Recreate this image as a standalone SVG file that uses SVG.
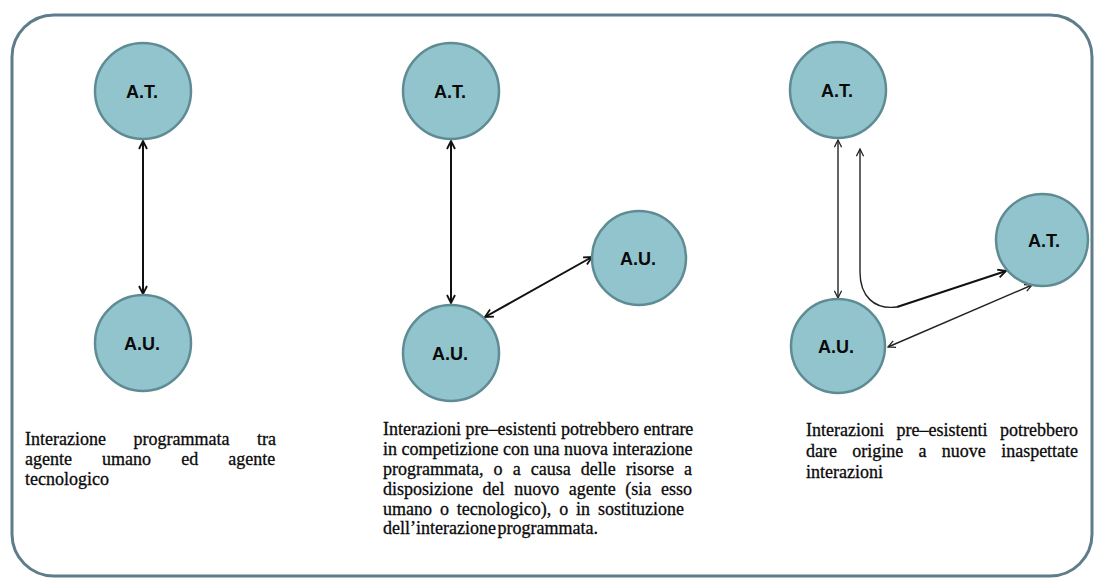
<svg xmlns="http://www.w3.org/2000/svg" width="1095" height="579" viewBox="0 0 1095 579">
  <style>
    .node circle { fill: #91c4cc; stroke: #5f8c94; stroke-width: 2.5; }
    .node text { font-family: "Liberation Sans", Arial, sans-serif; font-weight: bold; font-size: 18px; fill: #0a0a0a; text-anchor: middle; }
    .link { fill: none; stroke: #111; stroke-width: 2; }
    .thin { fill: none; stroke: #222; stroke-width: 1.4; }
    .caption { font-family: "Liberation Serif", "Times New Roman", serif; font-size: 18px; fill: #0a0a0a; stroke: #0a0a0a; stroke-width: 0.3; }
  </style>
  <defs>
    <marker id="head" viewBox="0 0 10 10" refX="9" refY="5" markerWidth="10" markerHeight="10" markerUnits="userSpaceOnUse" orient="auto-start-reverse">
      <path d="M1,1 L9,5 L1,9" fill="none" stroke="#111" stroke-width="1.8"/>
    </marker>
    <marker id="headThin" viewBox="0 0 10 10" refX="9" refY="5" markerWidth="9" markerHeight="9" markerUnits="userSpaceOnUse" orient="auto-start-reverse">
      <path d="M1,1 L9,5 L1,9" fill="none" stroke="#222" stroke-width="1.4"/>
    </marker>
  </defs>

  <rect width="1095" height="579" fill="#ffffff"/>
  <!-- outer frame -->
  <rect x="12" y="15" width="1080" height="561" rx="42" ry="42" fill="none" stroke="#5e7d8b" stroke-width="3"/>

  <!-- connectors -->
  <g id="connectors">
    <line class="link" x1="143" y1="141" x2="143" y2="294" marker-start="url(#head)" marker-end="url(#head)"/>
    <line class="link" x1="451" y1="141" x2="451" y2="303" marker-start="url(#head)" marker-end="url(#head)"/>
    <line class="link" x1="485" y1="317" x2="592" y2="257" marker-start="url(#head)" marker-end="url(#head)"/>
    <line class="thin" x1="838" y1="140" x2="838" y2="298" marker-start="url(#headThin)" marker-end="url(#headThin)"/>
    <path class="thin" d="M860,149 V272 C860,296 874,310 897,307" marker-start="url(#headThin)"/>
    <path class="link" d="M897,307 L1006,271" marker-end="url(#head)"/>
    <line class="thin" x1="888" y1="347" x2="1032" y2="285" marker-start="url(#headThin)" marker-end="url(#headThin)"/>
  </g>

  <!-- nodes -->
  <g id="node-at-1" class="node"><circle cx="143" cy="91" r="48"/><text x="142" y="98">A.T.</text></g>
  <g id="node-au-1" class="node"><circle cx="143" cy="343" r="48"/><text x="142" y="350">A.U.</text></g>
  <g id="node-at-2" class="node"><circle cx="451" cy="91" r="48"/><text x="450" y="98">A.T.</text></g>
  <g id="node-au-2" class="node"><circle cx="451" cy="353" r="48"/><text x="450" y="360">A.U.</text></g>
  <g id="node-au-3" class="node"><circle cx="639" cy="258" r="47"/><text x="638" y="265">A.U.</text></g>
  <g id="node-at-3" class="node"><circle cx="838" cy="90" r="48"/><text x="837" y="97">A.T.</text></g>
  <g id="node-au-4" class="node"><circle cx="838" cy="346" r="47"/><text x="836" y="353">A.U.</text></g>
  <g id="node-at-4" class="node"><circle cx="1042" cy="240" r="46"/><text x="1044" y="247">A.T.</text></g>

  <!-- captions -->
  <g id="caption-1" class="caption">
    <text x="25" y="445" word-spacing="23">Interazione programmata tra</text>
    <text x="25" y="465" word-spacing="25.6">agente umano ed agente</text>
    <text x="25" y="485">tecnologico</text>
  </g>
  <g id="caption-2" class="caption">
    <text x="383" y="435">Interazioni pre–esistenti potrebbero entrare</text>
    <text x="383" y="455">in competizione con una nuova interazione</text>
    <text x="383" y="475" word-spacing="5.6">programmata, o a causa delle risorse a</text>
    <text x="383" y="495" word-spacing="5.1">disposizione del nuovo agente (sia esso</text>
    <text x="383" y="515" word-spacing="3.4">umano o tecnologico), o in sostituzione</text>
    <text x="383" y="534" word-spacing="-3">dell’interazione programmata.</text>
  </g>
  <g id="caption-3" class="caption">
    <text x="806" y="436" word-spacing="8">Interazioni pre–esistenti potrebbero</text>
    <text x="806" y="457" word-spacing="10.8">dare origine a nuove inaspettate</text>
    <text x="806" y="478">interazioni</text>
  </g>
</svg>
